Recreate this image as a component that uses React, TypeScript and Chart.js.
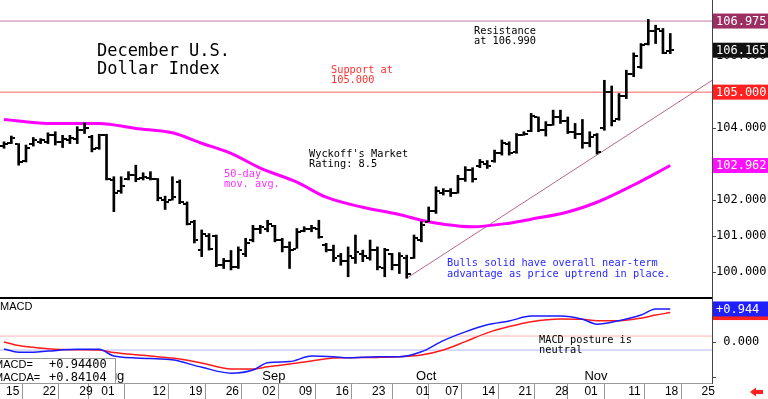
import React, { useEffect, useRef } from 'react';
import { Chart, registerables } from 'chart.js';

Chart.register(...registerables);

// ---- x axis (trading-day index) ----
const tickDays = [0, 5, 10, 13, 20, 25, 30, 35, 40, 45, 50, 56, 60, 65, 70, 75, 79, 85, 90, 95];
const tickLabels = ['15', '22', '29', '01', '12', '19', '26', '02', '09', '16', '23', '01', '07', '14', '21', '28', '01', '11', '18', '25'];
const monthDays = [13, 35, 56, 79];
const monthLabels = ['Aug', 'Sep', 'Oct', 'Nov'];

// ---- daily OHLC (index 0 = Jul 15) ----
const highs = [103.62, 103.78, 103.57, 103.53, 103.74, 103.71, 103.87, 103.9, 103.8, 103.8,
  104.04, 104.15, 103.8, 103.83, 103.83, 102.65, 102.65, 102.79, 102.97, 102.76,
  102.79, 102.6, 102.11, 102.65, 102.56, 101.95, 101.44, 101.17, 101.07, 101.03,
  100.38, 100.6, 100.7, 100.94, 101.3, 101.3, 101.44, 101.3, 100.94, 100.84,
  101.21, 101.26, 101.3, 101.44, 100.8, 100.75, 100.52, 100.7, 101.03, 100.61,
  100.89, 100.7, 100.66, 100.52, 100.54, 100.47, 101.03, 101.4, 101.81, 102.37,
  102.32, 102.32, 102.69, 102.93, 102.9, 103.13, 103.1, 103.39, 103.67, 103.62,
  103.85, 103.9, 104.41, 104.31, 104.18, 104.5, 104.5, 104.31, 104.13, 104.24,
  103.9, 103.85, 105.33, 105.17, 104.96, 105.61, 106.09, 106.35, 107.02, 106.86,
  106.77, 106.63];
const lows = [103.44, 103.57, 102.97, 103.06, 103.5, 103.57, 103.57, 103.53, 103.46, 103.57,
  103.57, 103.85, 103.34, 103.41, 102.56, 101.68, 102.19, 102.56, 102.51, 102.56,
  102.56, 101.98, 101.74, 102.0, 101.9, 101.31, 100.81, 100.43, 100.61, 100.15,
  100.1, 100.06, 100.1, 100.43, 100.84, 101.07, 101.12, 100.84, 100.56, 100.1,
  100.66, 101.12, 101.12, 100.94, 100.56, 100.29, 100.19, 99.87, 100.24, 100.29,
  100.33, 100.06, 99.87, 100.06, 99.96, 99.83, 100.38, 100.84, 101.4, 101.63,
  102.14, 102.1, 102.19, 102.52, 102.5, 102.9, 102.88, 103.05, 103.25, 103.25,
  103.3, 103.8, 103.9, 103.9, 103.78, 104.08, 104.13, 103.85, 103.71, 103.44,
  103.48, 103.28, 103.94, 104.06, 104.22, 104.82, 105.43, 105.66, 106.31, 106.35,
  106.07, 106.07];
const opens = [103.5, 103.6, 103.55, 103.1, 103.55, 103.62, 103.62, 103.8, 103.62, 103.68,
  103.7, 103.95, 103.75, 103.45, 103.8, 102.55, 102.25, 102.6, 102.7, 102.62,
  102.62, 102.58, 102.0, 102.0, 102.5, 101.9, 101.4, 100.6, 101.0, 101.0,
  100.2, 100.3, 100.15, 100.5, 100.9, 101.2, 101.2, 101.28, 100.9, 100.7,
  100.65, 101.15, 101.2, 101.2, 100.75, 100.6, 100.45, 100.3, 100.4, 100.5,
  100.4, 100.6, 100.1, 100.5, 100.2, 100.4, 100.4, 100.9, 101.4, 101.7,
  102.2, 102.25, 102.2, 102.6, 102.85, 102.95, 103.0, 103.1, 103.3, 103.55,
  103.35, 103.82, 103.92, 104.3, 103.95, 104.1, 104.3, 104.2, 103.9, 103.85,
  103.6, 103.8, 104.0, 105.0, 104.25, 104.9, 105.5, 105.7, 106.35, 106.7,
  106.7, 106.15];
const closes = [103.55, 103.72, 103.06, 103.45, 103.68, 103.66, 103.8, 103.62, 103.7, 103.72,
  103.95, 104.0, 103.42, 103.8, 102.6, 102.2, 102.4, 102.7, 102.6, 102.65,
  102.6, 102.05, 101.95, 102.1, 101.95, 101.35, 100.9, 101.05, 100.65, 100.2,
  100.3, 100.15, 100.6, 100.8, 101.2, 101.25, 101.35, 100.9, 100.7, 100.6,
  101.1, 101.2, 101.22, 100.98, 100.6, 100.4, 100.3, 100.45, 100.55, 100.45,
  100.6, 100.15, 100.6, 100.2, 100.45, 99.95, 100.95, 101.3, 101.7, 102.25,
  102.25, 102.2, 102.6, 102.85, 102.6, 103.05, 102.95, 103.3, 103.6, 103.3,
  103.8, 103.85, 104.35, 103.95, 104.1, 104.3, 104.2, 103.9, 103.85, 103.6,
  103.75, 103.35, 105.0, 104.2, 104.9, 105.5, 106.0, 106.3, 106.7, 106.75,
  106.1, 106.165];

// ---- 50-day moving average ----
const maDays = [0, 6, 13, 18, 23, 27, 31, 35, 40, 44, 49, 54, 57, 60, 64, 69, 72, 77, 81, 86, 91];
const maValues = [104.24, 104.13, 104.13, 103.99, 103.87, 103.58, 103.3, 102.89, 102.5, 102.08,
  101.8, 101.6, 101.44, 101.33, 101.26, 101.36, 101.47, 101.67, 101.94, 102.42, 102.962];

// ---- MACD ----
const macdDays = [0, 2, 4, 6, 10, 13, 15, 20, 23, 27, 31, 34, 36, 39, 42, 45, 47, 51, 54, 57,
  60, 63, 66, 69, 72, 76, 79, 81, 84, 87, 89, 91];
const macdValues = [-0.2, -0.29, -0.29, -0.26, -0.21, -0.21, -0.4, -0.47, -0.51, -0.72, -0.89, -0.8,
  -0.59, -0.56, -0.4, -0.42, -0.45, -0.42, -0.42, -0.28, 0.04, 0.29, 0.49, 0.6, 0.74, 0.74,
  0.65, 0.51, 0.61, 0.77, 0.94, 0.944];
const signalValues = [0.0, -0.1, -0.15, -0.19, -0.22, -0.23, -0.3, -0.4, -0.46, -0.6, -0.77, -0.77,
  -0.71, -0.63, -0.54, -0.46, -0.45, -0.44, -0.42, -0.37, -0.23, 0.01, 0.26, 0.44, 0.58, 0.66,
  0.65, 0.61, 0.61, 0.68, 0.77, 0.841];
const macdGuides = [0.17, -0.23];

// ---- levels / lines ----
const resistance = 106.975;
const support = 105.0;
const trendDays = [55, 99];
const trendValues = [99.83, 105.63];
const lastClose = 106.165;
const lastMA = 102.962;
const lastMACD = 0.944;
const lastSignal = 0.84104;
const priceTicks = [100, 101, 102, 103, 104, 105, 106, 107];
const macdTicks = [-1, -0.5, 0, 0.5, 1];

const MONO = '"DejaVu Sans Mono", monospace';
const SANS = '"Liberation Sans", Arial, sans-serif';

function tickImage(left: boolean) {
  const c = document.createElement('canvas');
  c.width = 8;
  c.height = 2;
  const g = c.getContext('2d')!;
  g.fillStyle = '#000';
  g.fillRect(left ? 0 : 5, 0, 3, 2);
  return c;
}

const noPad = (s: any) => {
  s.paddingTop = 0;
  s.paddingBottom = 0;
  s.paddingLeft = 0;
  s.paddingRight = 0;
};

const overlay = {
  id: 'overlay',
  afterDraw(chart: any) {
    const { ctx, scales } = chart;
    const xs = scales.x, ys = scales.y, y2 = scales.y2;
    ctx.save();
    // panel separator
    ctx.strokeStyle = '#000';
    ctx.lineWidth = 2;
    ctx.beginPath();
    ctx.moveTo(0, ys.bottom);
    ctx.lineTo(xs.right, ys.bottom);
    ctx.stroke();

    const text = (lines: string[], x: number, y: number, size: number, color: string, lh: number, font = MONO) => {
      ctx.font = `${size}px ${font}`;
      ctx.fillStyle = color;
      ctx.textAlign = 'left';
      ctx.textBaseline = 'alphabetic';
      lines.forEach((l, i) => ctx.fillText(l, x, y + i * lh));
    };
    text(['December U.S.', 'Dollar Index'], 97, 56, 17, '#000', 18);
    text(['Resistance', 'at 106.990'], 474, 34, 10.3, '#000', 9.5);
    text(['Support at', '105.000'], 331, 73, 10.3, '#ff3030', 10);
    text(["Wyckoff's Market", 'Rating: 8.5'], 309, 157, 10.3, '#000', 10);
    text(['50-day', 'mov. avg.'], 224, 177, 10.3, '#ff30ff', 10);
    text(['Bulls solid have overall near-term', 'advantage as price uptrend in place.'], 447, 266, 10.3, '#2828ff', 10.5);
    text(['MACD posture is', 'neutral'], 539, 342.5, 10.3, '#000', 10.5);
    text(['MACD'], 0, 310, 11, '#000', 0, SANS);

    // month labels
    monthLabels.forEach((m, i) => {
      text([m], xs.getPixelForValue(monthDays[i]) + 2, y2.bottom - 3, 13, '#000', 0, SANS);
    });

    // MACD legend box
    ctx.fillStyle = '#fff';
    ctx.fillRect(-1, 358, 117, 25);
    ctx.strokeStyle = '#999';
    ctx.lineWidth = 1;
    ctx.strokeRect(-0.5, 358.5, 116, 25);
    text(['MACD=', 'MACDA='], -6, 368, 11, '#000', 12.5, SANS);
    text(['+0.94400', '+0.84104'], 49, 368, 12, '#000', 12.5, MONO);

    // right-axis value boxes
    const box = (py: number, bg: string, label: string) => {
      ctx.fillStyle = bg;
      ctx.fillRect(xs.right + 1, py - 7.5, 56, 15);
      ctx.font = `12px ${MONO}`;
      ctx.fillStyle = '#fff';
      ctx.textBaseline = 'middle';
      ctx.textAlign = 'left';
      ctx.fillText(label, xs.right + 4, py + 0.5);
    };
    box(ys.getPixelForValue(resistance), '#9c2f62', resistance.toFixed(3));
    box(ys.getPixelForValue(lastClose), '#111', lastClose.toFixed(3));
    box(ys.getPixelForValue(support), '#ff2020', support.toFixed(3));
    box(ys.getPixelForValue(lastMA), '#ff10ff', lastMA.toFixed(3));
    box(y2.getPixelForValue(lastSignal), '#ff2020', '+' + lastSignal.toFixed(3));
    box(y2.getPixelForValue(lastMACD), '#2020ff', '+' + lastMACD.toFixed(3));

    // red arrow bottom right
    ctx.fillStyle = '#ff2020';
    ctx.beginPath();
    ctx.moveTo(750, 392);
    ctx.lineTo(756, 387.5);
    ctx.lineTo(756, 396.5);
    ctx.closePath();
    ctx.fill();
    ctx.fillRect(755, 390, 8, 4);
    ctx.restore();
  },
};

export default function App() {
  const ref = useRef<HTMLCanvasElement>(null);
  useEffect(() => {
    if (!ref.current) return;
    const openImg = tickImage(true);
    const closeImg = tickImage(false);
    const lvl = (v: number) => [{ x: -2, y: v }, { x: 100, y: v }];
    const chart = new Chart(ref.current, {
      type: 'bar',
      data: {
        datasets: [
          {
            type: 'bar',
            data: highs.map((h, i) => ({ x: i, y: [lows[i], h] })) as any,
            backgroundColor: '#000',
            barThickness: 2,
            grouped: false,
            yAxisID: 'y',
            order: 0,
          } as any,
          {
            type: 'line',
            data: opens.map((o, i) => ({ x: i, y: o })),
            showLine: false,
            pointStyle: openImg,
            pointRadius: 2,
            yAxisID: 'y',
            order: 0,
          } as any,
          {
            type: 'line',
            data: closes.map((c, i) => ({ x: i, y: c })),
            showLine: false,
            pointStyle: closeImg,
            pointRadius: 2,
            yAxisID: 'y',
            order: 0,
          } as any,
          {
            type: 'line',
            data: maDays.map((d, i) => ({ x: d, y: maValues[i] })),
            borderColor: '#ff00ff',
            borderWidth: 3,
            pointRadius: 0,
            cubicInterpolationMode: 'monotone',
            yAxisID: 'y',
            order: 3,
          } as any,
          {
            type: 'line',
            data: lvl(resistance),
            borderColor: '#c27aa3',
            borderWidth: 1,
            pointRadius: 0,
            yAxisID: 'y',
            order: 5,
          } as any,
          {
            type: 'line',
            data: lvl(support),
            borderColor: '#ff6060',
            borderWidth: 1,
            pointRadius: 0,
            yAxisID: 'y',
            order: 5,
          } as any,
          {
            type: 'line',
            data: trendDays.map((d, i) => ({ x: d, y: trendValues[i] })),
            borderColor: '#b8668e',
            borderWidth: 1,
            pointRadius: 0,
            yAxisID: 'y',
            order: 5,
          } as any,
          {
            type: 'line',
            data: lvl(macdGuides[0]),
            borderColor: '#ffb4b4',
            borderWidth: 1,
            pointRadius: 0,
            yAxisID: 'y2',
            order: 6,
          } as any,
          {
            type: 'line',
            data: lvl(macdGuides[1]),
            borderColor: '#b4b4ff',
            borderWidth: 1,
            pointRadius: 0,
            yAxisID: 'y2',
            order: 6,
          } as any,
          {
            type: 'line',
            data: macdDays.map((d, i) => ({ x: d, y: signalValues[i] })),
            borderColor: '#ff1a1a',
            borderWidth: 1.5,
            pointRadius: 0,
            cubicInterpolationMode: 'monotone',
            yAxisID: 'y2',
            order: 2,
          } as any,
          {
            type: 'line',
            data: macdDays.map((d, i) => ({ x: d, y: macdValues[i] })),
            borderColor: '#1a1aff',
            borderWidth: 1.5,
            pointRadius: 0,
            cubicInterpolationMode: 'monotone',
            yAxisID: 'y2',
            order: 1,
          } as any,
        ],
      },
      options: {
        responsive: false,
        animation: false,
        events: [],
        layout: { padding: 0, autoPadding: false },
        plugins: { legend: { display: false }, tooltip: { enabled: false } },
        scales: {
          x: {
            type: 'linear',
            min: -0.55,
            max: 96.7,
            offset: false,
            position: 'bottom',
            afterBuildTicks: (s: any) => {
              s.ticks = tickDays.map((v) => ({ value: v }));
            },
            afterFit: (s: any) => {
              s.height = 16;
              noPad(s);
            },
            ticks: {
              autoSkip: false,
              maxRotation: 0,
              minRotation: 0,
              align: 'start',
              labelOffset: 2,
              padding: -15,
              color: '#000',
              font: { family: SANS, size: 12 },
              callback: (v: any) => {
                const i = tickDays.indexOf(Number(v));
                return i >= 0 ? tickLabels[i] : '';
              },
            },
            grid: { drawOnChartArea: false, drawTicks: true, tickLength: 16, color: '#999', lineWidth: 1 },
            border: { display: true, color: '#999' },
          },
          y: {
            type: 'linear',
            position: 'right',
            stack: 'v',
            stackWeight: 298,
            min: 99.28,
            max: 107.56,
            afterBuildTicks: (s: any) => {
              s.ticks = priceTicks.map((v) => ({ value: v }));
            },
            afterFit: (s: any) => {
              s.width = 56;
              noPad(s);
            },
            ticks: {
              padding: 0,
              color: '#000',
              font: { family: MONO, size: 12 },
              callback: (v: any) => Number(v).toFixed(3),
            },
            grid: { drawOnChartArea: false, tickLength: 4, color: '#444' },
            border: { display: true, color: '#444' },
          },
          y2: {
            type: 'linear',
            position: 'right',
            stack: 'v',
            stackWeight: 85,
            min: -1.171,
            max: 1.257,
            afterBuildTicks: (s: any) => {
              s.ticks = macdTicks.map((v) => ({ value: v }));
            },
            afterFit: (s: any) => {
              s.width = 56;
              noPad(s);
            },
            ticks: {
              padding: 0,
              color: '#000',
              font: { family: MONO, size: 12 },
              callback: (v: any) => (Number(v) === 0 ? ' 0.000' : ''),
            },
            grid: { drawOnChartArea: false, tickLength: 4, color: '#444' },
            border: { display: true, color: '#444' },
          },
        },
      } as any,
      plugins: [overlay],
    });
    return () => chart.destroy();
  }, []);
  return (
    <div style={{ position: 'fixed', left: 0, top: 0, width: 768, height: 399, background: '#fff' }}>
      <canvas ref={ref} width={768} height={399} style={{ display: 'block' }} />
    </div>
  );
}
